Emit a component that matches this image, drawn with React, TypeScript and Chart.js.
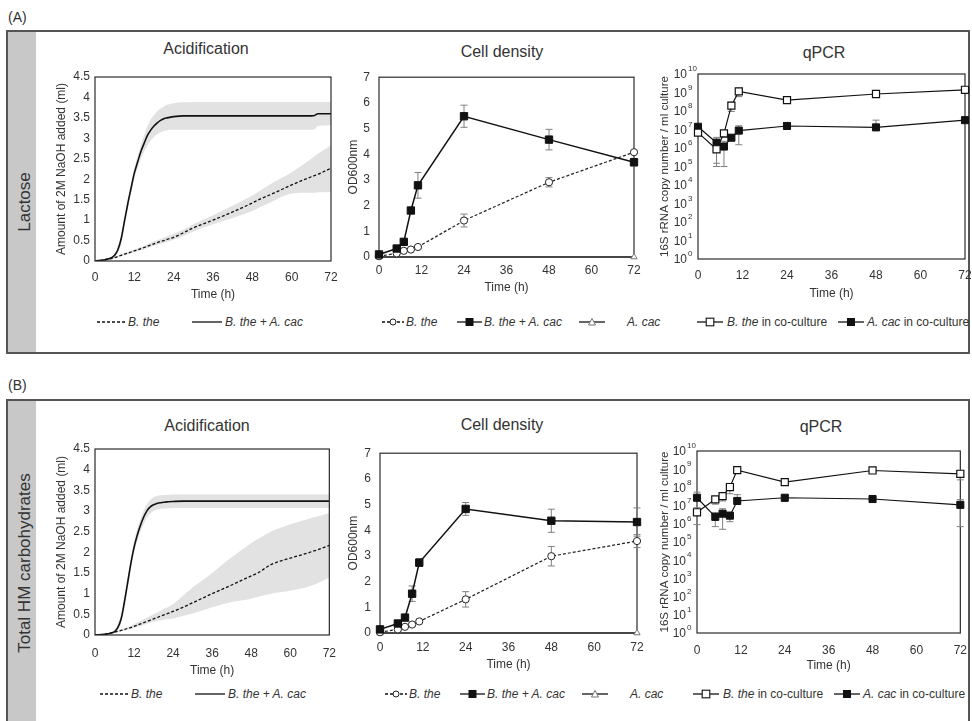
import React, { useEffect, useRef } from 'react';
import { Chart, registerables } from 'chart.js';

Chart.register(...registerables);

const FONT = '"Liberation Sans", Arial, Helvetica, sans-serif';
const TXT = '#333333';
const LINE = '#111111';
const BAND = '#e2e2e2';
const ERR = '#808080';

// ---------------- DATA ----------------
// Acidification (continuous titration curves, h)
const acidTime = [0, 3, 5, 6, 7, 8, 9, 10, 11, 12, 13, 14, 15, 16, 17, 18, 19, 20, 21, 22, 24, 27, 30, 36, 42, 48, 50, 54, 60, 66, 67, 68, 72];

const acidA_cocult = [0, 0.03, 0.08, 0.14, 0.28, 0.55, 0.98, 1.4, 1.78, 2.15, 2.42, 2.68, 2.88, 3.07, 3.2, 3.3, 3.38, 3.44, 3.48, 3.5, 3.53, 3.55, 3.55, 3.55, 3.55, 3.55, 3.55, 3.55, 3.55, 3.55, 3.56, 3.6, 3.6];
const acidA_cocultHi = [0, 0.04, 0.1, 0.18, 0.34, 0.64, 1.08, 1.52, 1.9, 2.27, 2.56, 2.84, 3.08, 3.3, 3.46, 3.57, 3.66, 3.73, 3.78, 3.82, 3.86, 3.88, 3.89, 3.89, 3.89, 3.89, 3.89, 3.89, 3.89, 3.89, 3.89, 3.89, 3.89];
const acidA_cocultLo = [0, 0.02, 0.05, 0.1, 0.2, 0.42, 0.85, 1.28, 1.66, 2.02, 2.28, 2.5, 2.68, 2.83, 2.95, 3.04, 3.1, 3.15, 3.18, 3.2, 3.21, 3.21, 3.21, 3.21, 3.21, 3.21, 3.21, 3.21, 3.21, 3.21, 3.22, 3.3, 3.32];
const acidA_mono = [0, 0.03, 0.06, 0.08, 0.11, 0.14, 0.17, 0.19, 0.22, 0.25, 0.27, 0.3, 0.33, 0.36, 0.39, 0.42, 0.45, 0.48, 0.5, 0.53, 0.58, 0.69, 0.81, 1.0, 1.2, 1.42, 1.5, 1.64, 1.86, 2.06, 2.09, 2.12, 2.27];
const acidA_monoHi = [0, 0.04, 0.08, 0.1, 0.13, 0.16, 0.19, 0.22, 0.25, 0.28, 0.31, 0.34, 0.37, 0.41, 0.44, 0.48, 0.51, 0.54, 0.57, 0.6, 0.66, 0.77, 0.9, 1.12, 1.35, 1.6, 1.7, 1.9, 2.17, 2.5, 2.56, 2.62, 2.83];
const acidA_monoLo = [0, 0.02, 0.04, 0.06, 0.09, 0.12, 0.14, 0.16, 0.19, 0.22, 0.24, 0.26, 0.29, 0.32, 0.35, 0.37, 0.4, 0.42, 0.44, 0.47, 0.52, 0.61, 0.72, 0.9, 1.05, 1.22, 1.3, 1.45, 1.65, 1.67, 1.67, 1.68, 1.69];

const acidB_cocult = [0, 0.02, 0.05, 0.08, 0.18, 0.38, 0.78, 1.25, 1.72, 2.12, 2.42, 2.66, 2.86, 3.01, 3.1, 3.15, 3.18, 3.2, 3.21, 3.22, 3.23, 3.24, 3.24, 3.24, 3.24, 3.24, 3.24, 3.24, 3.24, 3.24, 3.24, 3.24, 3.24];
const acidB_cocultHi = [0, 0.03, 0.07, 0.11, 0.24, 0.5, 0.92, 1.4, 1.86, 2.26, 2.57, 2.82, 3.02, 3.17, 3.27, 3.33, 3.36, 3.38, 3.39, 3.39, 3.4, 3.4, 3.4, 3.4, 3.4, 3.4, 3.4, 3.4, 3.4, 3.4, 3.4, 3.4, 3.4];
const acidB_cocultLo = [0, 0.01, 0.03, 0.06, 0.13, 0.28, 0.64, 1.1, 1.58, 1.98, 2.28, 2.5, 2.69, 2.84, 2.94, 3.0, 3.03, 3.05, 3.06, 3.06, 3.07, 3.07, 3.07, 3.07, 3.07, 3.07, 3.07, 3.07, 3.07, 3.07, 3.07, 3.07, 3.07];
const acidB_mono = [0, 0.02, 0.05, 0.07, 0.09, 0.11, 0.13, 0.16, 0.18, 0.21, 0.24, 0.27, 0.3, 0.33, 0.36, 0.39, 0.42, 0.45, 0.48, 0.51, 0.57, 0.67, 0.78, 1.0, 1.21, 1.43, 1.5, 1.7, 1.86, 2.0, 2.03, 2.05, 2.17];
const acidB_monoHi = [0, 0.03, 0.06, 0.08, 0.11, 0.13, 0.16, 0.19, 0.22, 0.26, 0.3, 0.34, 0.38, 0.42, 0.46, 0.5, 0.54, 0.58, 0.62, 0.66, 0.75, 0.95, 1.15, 1.5, 1.88, 2.22, 2.32, 2.5, 2.68, 2.82, 2.84, 2.86, 2.95];
const acidB_monoLo = [0, 0.01, 0.04, 0.05, 0.07, 0.09, 0.11, 0.13, 0.15, 0.17, 0.2, 0.22, 0.25, 0.27, 0.3, 0.32, 0.34, 0.35, 0.37, 0.38, 0.4, 0.46, 0.52, 0.67, 0.8, 0.88, 0.92, 1.0, 1.07, 1.18, 1.21, 1.24, 1.39];

// Sampling times (h) for cell density and qPCR
const sampleTime = [0, 5, 7, 9, 11, 24, 48, 72];
const acacTime = [0, 72];

// Cell density OD600
const odA_cocult = [0.1, 0.33, 0.59, 1.81, 2.79, 5.48, 4.57, 3.69];
const odA_cocultErr = [0.05, 0.05, 0.05, 0.1, 0.5, 0.43, 0.4, 0.15];
const odA_mono = [0.03, 0.14, 0.24, 0.29, 0.39, 1.42, 2.91, 4.08];
const odA_monoErr = [0, 0.02, 0.02, 0.02, 0.05, 0.25, 0.18, 0.05];
const odA_acac = [0, 0];

const odB_cocult = [0.14, 0.37, 0.6, 1.53, 2.74, 4.83, 4.37, 4.32];
const odB_cocultErr = [0.05, 0.05, 0.05, 0.3, 0.15, 0.25, 0.45, 0.55];
const odB_mono = [0.03, 0.14, 0.24, 0.33, 0.45, 1.31, 2.99, 3.58];
const odB_monoErr = [0, 0.03, 0.03, 0.05, 0.05, 0.3, 0.38, 0.25];
const odB_acac = [0, 0];

// qPCR 16S rRNA copies / ml
const qA_bthe = [6.8e6, 8.5e5, 6.2e6, 1.95e8, 1.15e9, 3.9e8, 8.3e8, 1.4e9];
const qA_btheErr = [0, 7.5e5, 2.5e6, 1e8, 5.5e8, 0, 0, 0];
const qA_acac = [1.4e7, 1.95e6, 1.2e6, 3.6e6, 8.7e6, 1.55e7, 1.3e7, 3.2e7];
const qA_acacErr = [0, 1.8e6, 1.1e6, 0, 7.2e6, 0, 1.9e7, 0];

const qB_bthe = [4.3e6, 2.2e7, 3.3e7, 1.05e8, 8.9e8, 1.95e8, 8.5e8, 5.6e8];
const qB_btheErr = [3.4e6, 1e7, 1.5e7, 6e7, 0, 0, 0, 3e8];
const qB_acac = [2.7e7, 2.4e6, 3.6e6, 2.8e6, 1.8e7, 2.7e7, 2.3e7, 1.1e7];
const qB_acacErr = [2.8e7, 1.7e6, 3.1e6, 1.5e6, 2.2e7, 1e7, 0, 1.03e7];

// Tick labels
const timeTicks = [0, 12, 24, 36, 48, 60, 72];
const acidTicks = [0, 0.5, 1, 1.5, 2, 2.5, 3, 3.5, 4, 4.5];
const odTicks = [0, 1, 2, 3, 4, 5, 6, 7];
const logTickValues = [1, 1e1, 1e2, 1e3, 1e4, 1e5, 1e6, 1e7, 1e8, 1e9, 1e10];
const logExponents = ['0', '1', '2', '3', '4', '5', '6', '7', '8', '9', '10'];

// ---------------- HELPERS ----------------
const pts = (xs: number[], ys: number[]) => xs.map((x, i) => ({ x, y: ys[i] }));

const acidSets = (co: number[], coHi: number[], coLo: number[], mono: number[], monoHi: number[], monoLo: number[]) => [
  { data: pts(acidTime, co), borderColor: LINE, borderWidth: 1.6, pointRadius: 0, cubicInterpolationMode: 'monotone', fill: false },
  { data: pts(acidTime, mono), borderColor: LINE, borderWidth: 1.3, borderDash: [3, 2], pointRadius: 0, cubicInterpolationMode: 'monotone', fill: false },
  { data: pts(acidTime, coHi), borderColor: 'rgba(0,0,0,0)', borderWidth: 1, pointRadius: 0, cubicInterpolationMode: 'monotone', fill: '+1', backgroundColor: BAND },
  { data: pts(acidTime, coLo), borderColor: 'rgba(0,0,0,0)', borderWidth: 1, pointRadius: 0, cubicInterpolationMode: 'monotone', fill: false },
  { data: pts(acidTime, monoHi), borderColor: 'rgba(0,0,0,0)', borderWidth: 1, pointRadius: 0, cubicInterpolationMode: 'monotone', fill: '+1', backgroundColor: BAND },
  { data: pts(acidTime, monoLo), borderColor: 'rgba(0,0,0,0)', borderWidth: 1, pointRadius: 0, cubicInterpolationMode: 'monotone', fill: false },
];

const odSets = (co: number[], mono: number[], acac: number[]) => [
  { data: pts(sampleTime, co), borderColor: LINE, borderWidth: 1.5, pointStyle: 'rect', pointRadius: 5.2, pointBackgroundColor: LINE, pointBorderColor: LINE, pointBorderWidth: 1, clip: false, fill: false },
  { data: pts(sampleTime, mono), borderColor: '#222', borderWidth: 1.2, borderDash: [3, 2], pointStyle: 'circle', pointRadius: 3.6, pointBackgroundColor: '#fff', pointBorderColor: '#222', pointBorderWidth: 1, clip: false, fill: false },
  { data: pts(acacTime, acac), borderColor: LINE, borderWidth: 1, pointStyle: 'triangle', pointRadius: 3.6, pointBackgroundColor: '#fff', pointBorderColor: '#777', pointBorderWidth: 1, clip: false, fill: false },
];

const qSets = (bthe: number[], acac: number[]) => [
  { data: pts(sampleTime, bthe), borderColor: LINE, borderWidth: 1.2, pointStyle: 'rect', pointRadius: 5, pointBackgroundColor: '#fff', pointBorderColor: LINE, pointBorderWidth: 1.2, clip: false, fill: false },
  { data: pts(sampleTime, acac), borderColor: LINE, borderWidth: 1.2, pointStyle: 'rect', pointRadius: 5, pointBackgroundColor: LINE, pointBorderColor: LINE, pointBorderWidth: 1, clip: false, fill: false },
];

type ErrSpec = { ds: number; err: number[] };
type Spec = {
  plot: [number, number, number, number];
  yTitle: string;
  yTitleSize: number;
  yTitleX: number;
  xTitleY: number;
  xPad: number;
  yPad: number;
  yMin: number;
  yMax: number;
  yTicks: number[];
  datasets: any[];
  errors?: ErrSpec[];
  log?: boolean;
  frameOnTop?: boolean;
};

const LH = 14.4;

function PlotCanvas({ spec }: { spec: Spec }) {
  const ref = useRef<HTMLCanvasElement | null>(null);
  const [px, py, pw, ph] = spec.plot;
  const left = Math.round(spec.yTitleX - (spec.yTitleSize * 1.2) / 2);
  const top = py - 14;
  const right = px + pw + 16;
  const bottom = Math.round(spec.xTitleY + LH / 2);
  const W = right - left;
  const H = bottom - top;
  const L = px - left;
  const T = py - top;
  const R = right - (px + pw);
  const B = bottom - (py + ph);

  useEffect(() => {
    const canvas = ref.current;
    if (!canvas) return;
    const font = { family: FONT, size: 12 };
    const frameHook = spec.frameOnTop ? 'afterDatasetsDraw' : 'beforeDatasetsDraw';
    const frame: any = {
      id: 'frame',
      [frameHook](chart: any) {
        const { ctx, chartArea: a } = chart;
        ctx.save();
        ctx.strokeStyle = '#2b2b2b';
        ctx.lineWidth = 1.2;
        ctx.strokeRect(a.left, a.top, a.right - a.left, a.bottom - a.top);
        ctx.restore();
      },
    };
    const errBars: any = {
      id: 'errBars',
      beforeDatasetsDraw(chart: any) {
        if (!spec.errors) return;
        const { ctx } = chart;
        const ys = chart.scales.y;
        ctx.save();
        ctx.strokeStyle = ERR;
        ctx.lineWidth = 1;
        for (const e of spec.errors) {
          const meta = chart.getDatasetMeta(e.ds);
          const data = chart.data.datasets[e.ds].data as any[];
          meta.data.forEach((pt: any, i: number) => {
            const sd = e.err[i];
            if (!sd) return;
            const v = data[i].y;
            const yHi = ys.getPixelForValue(v + sd);
            const lowVal = v - sd;
            const yLo = lowVal > 0 || (!spec.log && lowVal >= 0) ? ys.getPixelForValue(lowVal) : null;
            const x = pt.x;
            ctx.beginPath();
            ctx.moveTo(x, yLo !== null ? yLo : ys.getPixelForValue(v));
            ctx.lineTo(x, yHi);
            ctx.moveTo(x - 3.5, yHi);
            ctx.lineTo(x + 3.5, yHi);
            if (yLo !== null) {
              ctx.moveTo(x - 3.5, yLo);
              ctx.lineTo(x + 3.5, yLo);
            }
            ctx.stroke();
          });
        }
        ctx.restore();
      },
    };
    const logLabels: any = {
      id: 'logLabels',
      afterDraw(chart: any) {
        if (!spec.log) return;
        const { ctx, chartArea: a } = chart;
        const ys = chart.scales.y;
        ctx.save();
        ctx.fillStyle = TXT;
        ctx.textBaseline = 'middle';
        logTickValues.forEach((v, i) => {
          const y = ys.getPixelForValue(v);
          ctx.font = `12px ${FONT}`;
          ctx.textAlign = 'right';
          ctx.fillText('10', a.left - 11, y + 1);
          ctx.font = `8px ${FONT}`;
          ctx.textAlign = 'left';
          ctx.fillText(logExponents[i], a.left - 10, y - 5);
        });
        ctx.restore();
      },
    };

    const chart = new Chart(canvas, {
      type: 'line',
      data: { datasets: spec.datasets },
      options: {
        animation: false,
        responsive: false,
        maintainAspectRatio: false,
        events: [],
        layout: { padding: { left: 0, top: T, right: R, bottom: 0 } },
        plugins: { legend: { display: false }, tooltip: { enabled: false }, title: { display: false } },
        scales: {
          x: {
            type: 'linear',
            min: 0,
            max: 72,
            afterBuildTicks: (s: any) => {
              s.ticks = timeTicks.map((v) => ({ value: v }));
            },
            ticks: { font, color: TXT, padding: spec.xPad, maxRotation: 0, autoSkip: false, callback: (v: any) => String(v) },
            grid: { display: false, drawTicks: false },
            border: { display: false },
            title: { display: true, text: 'Time (h)', font, color: TXT, padding: 0 },
            afterFit: (s: any) => {
              s.height = B;
            },
          },
          y: {
            type: spec.log ? 'logarithmic' : 'linear',
            min: spec.yMin,
            max: spec.yMax,
            afterBuildTicks: (s: any) => {
              s.ticks = spec.yTicks.map((v) => ({ value: v }));
            },
            ticks: { display: !spec.log, font, color: TXT, padding: spec.yPad, autoSkip: false, callback: (v: any) => String(v) },
            grid: { display: false, drawTicks: false },
            border: { display: false },
            title: { display: true, text: spec.yTitle, font: { family: FONT, size: spec.yTitleSize }, color: TXT, padding: 0 },
            afterFit: (s: any) => {
              s.width = L;
            },
          },
        },
      } as any,
      plugins: [frame, errBars, logLabels],
    });
    return () => chart.destroy();
  }, []);

  return <canvas ref={ref} width={W} height={H} style={{ position: 'absolute', left, top, width: W, height: H }} />;
}

// ---------------- LEGEND / LABELS ----------------
function Sample({ w, dash, marker }: { w: number; dash?: boolean; marker?: string }) {
  const c = w / 2;
  return (
    <svg width={w} height={12} style={{ display: 'block' }}>
      <line x1={0} y1={6} x2={w} y2={6} stroke={LINE} strokeWidth={1.3} strokeDasharray={dash ? '3 2' : undefined} />
      {marker === 'circle' && <circle cx={c} cy={6} r={3} fill="#fff" stroke="#222" strokeWidth={1} />}
      {marker === 'square' && <rect x={c - 4} y={2} width={8} height={8} fill={LINE} />}
      {marker === 'osquare' && <rect x={c - 3.8} y={2.2} width={7.6} height={7.6} fill="#fff" stroke={LINE} strokeWidth={1.1} />}
      {marker === 'triangle' && <polygon points={`${c},2.5 ${c - 3.5},9 ${c + 3.5},9`} fill="#fff" stroke="#777" strokeWidth={1} />}
    </svg>
  );
}

function LegendItem({ x, y, w, tx, dash, marker, children }: { x: number; y: number; w: number; tx: number; dash?: boolean; marker?: string; children: any }) {
  return (
    <>
      <div style={{ position: 'absolute', left: x, top: y - 6 }}>
        <Sample w={w} dash={dash} marker={marker} />
      </div>
      <div style={{ position: 'absolute', left: tx, top: y - 7, fontSize: 12, lineHeight: '14px', whiteSpace: 'nowrap', color: TXT }}>{children}</div>
    </>
  );
}

function Title({ text, cx, cy }: { text: string; cx: number; cy: number }) {
  return (
    <div style={{ position: 'absolute', left: cx, top: cy, transform: 'translate(-50%,-50%)', fontSize: 16, lineHeight: '18px', whiteSpace: 'nowrap', color: TXT }}>
      {text}
    </div>
  );
}

function SideLabel({ text, cx, cy }: { text: string; cx: number; cy: number }) {
  return (
    <div style={{ position: 'absolute', left: cx, top: cy, transform: 'translate(-50%,-50%) rotate(-90deg)', fontSize: 17, lineHeight: '20px', whiteSpace: 'nowrap', color: TXT }}>
      {text}
    </div>
  );
}

const QTITLE = '16S rRNA copy number / ml culture';
const ATITLE = 'Amount of 2M NaOH added (ml)';

const specs: Spec[] = [
  { plot: [95, 77, 236, 184], yTitle: ATITLE, yTitleSize: 12, yTitleX: 61, xTitleY: 295, xPad: 9, yPad: 5, yMin: 0, yMax: 4.5, yTicks: acidTicks, frameOnTop: true,
    datasets: acidSets(acidA_cocult, acidA_cocultHi, acidA_cocultLo, acidA_mono, acidA_monoHi, acidA_monoLo) },
  { plot: [379, 75, 255, 182], yTitle: 'OD600nm', yTitleSize: 12, yTitleX: 353, xTitleY: 288, xPad: 6, yPad: 9, yMin: 0, yMax: 7, yTicks: odTicks,
    datasets: odSets(odA_cocult, odA_mono, odA_acac), errors: [{ ds: 0, err: odA_cocultErr }, { ds: 1, err: odA_monoErr }] },
  { plot: [698, 74, 267, 185], yTitle: QTITLE, yTitleSize: 11.5, yTitleX: 665, xTitleY: 294, xPad: 9, yPad: 5, yMin: 1, yMax: 1e10, yTicks: logTickValues, log: true,
    datasets: qSets(qA_bthe, qA_acac), errors: [{ ds: 0, err: qA_btheErr }, { ds: 1, err: qA_acacErr }] },
  { plot: [95, 449, 236, 186], yTitle: ATITLE, yTitleSize: 12, yTitleX: 61, xTitleY: 671, xPad: 11, yPad: 5, yMin: 0, yMax: 4.5, yTicks: acidTicks, frameOnTop: true,
    datasets: acidSets(acidB_cocult, acidB_cocultHi, acidB_cocultLo, acidB_mono, acidB_monoHi, acidB_monoLo) },
  { plot: [380, 451, 257, 182], yTitle: 'OD600nm', yTitleSize: 12, yTitleX: 353, xTitleY: 665, xPad: 7, yPad: 9, yMin: 0, yMax: 7, yTicks: odTicks,
    datasets: odSets(odB_cocult, odB_mono, odB_acac), errors: [{ ds: 0, err: odB_cocultErr }, { ds: 1, err: odB_monoErr }] },
  { plot: [697, 451, 264, 182], yTitle: QTITLE, yTitleSize: 11.5, yTitleX: 665, xTitleY: 666, xPad: 10, yPad: 5, yMin: 1, yMax: 1e10, yTicks: logTickValues, log: true,
    datasets: qSets(qB_bthe, qB_acac), errors: [{ ds: 0, err: qB_btheErr }, { ds: 1, err: qB_acacErr }] },
];

function Legends({ y, dx }: { y: number; dx: number[] }) {
  return (
    <>
      <LegendItem x={97 + dx[0]} y={y} w={28} tx={128 + dx[0]} dash><i>B. the</i></LegendItem>
      <LegendItem x={192 + dx[0]} y={y} w={30} tx={225 + dx[0]}><i>B. the + A. cac</i></LegendItem>
      <LegendItem x={382 + dx[1]} y={y} w={22} tx={406 + dx[1]} dash marker="circle"><i>B. the</i></LegendItem>
      <LegendItem x={457 + dx[1]} y={y} w={25} tx={484 + dx[1]} marker="square"><i>B. the + A. cac</i></LegendItem>
      <LegendItem x={579 + dx[1]} y={y} w={26} tx={627 + dx[1]} marker="triangle"><i>A. cac</i></LegendItem>
      <LegendItem x={697 + dx[2]} y={y} w={26} tx={727 + dx[2]} marker="osquare"><><i>B. the</i> in co-culture</></LegendItem>
      <LegendItem x={838 + dx[2]} y={y} w={26} tx={867 + dx[2]} marker="square"><><i>A. cac</i> in co-culture</></LegendItem>
    </>
  );
}

export default function App() {
  return (
    <div style={{ position: 'absolute', left: 0, top: 0, width: 972, height: 721, overflow: 'hidden', background: '#fff', fontFamily: FONT, color: TXT }}>
      <div style={{ position: 'absolute', left: 8, top: 9, fontSize: 14, lineHeight: '16px' }}>(A)</div>
      <div style={{ position: 'absolute', left: 6, top: 30, width: 964, height: 324, border: '2px solid #555', boxSizing: 'border-box' }} />
      <div style={{ position: 'absolute', left: 8, top: 32, width: 28, height: 320, background: '#c8c8c8' }} />
      <SideLabel text="Lactose" cx={25} cy={202} />

      <div style={{ position: 'absolute', left: 8, top: 377, fontSize: 14, lineHeight: '16px' }}>(B)</div>
      <div style={{ position: 'absolute', left: 6, top: 399, width: 964, height: 340, border: '2px solid #555', boxSizing: 'border-box' }} />
      <div style={{ position: 'absolute', left: 8, top: 401, width: 28, height: 336, background: '#c8c8c8' }} />
      <SideLabel text="Total HM carbohydrates" cx={25} cy={563} />

      <Title text="Acidification" cx={206} cy={49} />
      <Title text="Cell density" cx={502} cy={52} />
      <Title text="qPCR" cx={824} cy={53} />
      <Title text="Acidification" cx={207} cy={426} />
      <Title text="Cell density" cx={502} cy={425} />
      <Title text="qPCR" cx={821} cy={427} />

      {specs.map((s, i) => (
        <PlotCanvas key={i} spec={s} />
      ))}

      <Legends y={322} dx={[0, 0, 0]} />
      <Legends y={694} dx={[3, 3, -4]} />
    </div>
  );
}
